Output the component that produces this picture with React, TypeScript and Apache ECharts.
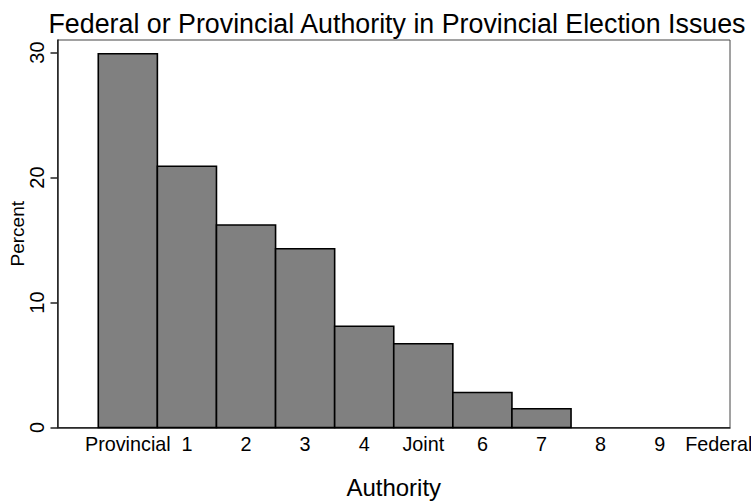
import React, { useEffect, useRef } from "react";
import * as echarts from "echarts";

const categories = ["Provincial", "1", "2", "3", "4", "Joint", "6", "7", "8", "9", "Federal"];
const percents = [29.9, 20.9, 16.2, 14.3, 8.1, 6.7, 2.8, 1.5];
const yTicks = [0, 10, 20, 30];
const titleText = "Federal or Provincial Authority in Provincial Election Issues";
const xTitle = "Authority";
const yTitle = "Percent";

export default function App() {
  const ref = useRef<HTMLDivElement>(null);
  useEffect(() => {
    if (!ref.current) return;
    const chart = echarts.init(ref.current, null, { renderer: "svg" });
    const font = "Liberation Sans, Arial, sans-serif";
    const data = percents.map((v, i) => [i, v]);
    chart.setOption({
      animation: false,
      backgroundColor: "#ffffff",
      title: {
        text: titleText,
        left: 392,
        textAlign: "center",
        top: 5,
        textStyle: { fontFamily: font, fontSize: 26.8, fontWeight: "normal", color: "#000" },
      },
      grid: {
        left: 57.5,
        right: 21,
        top: 40,
        bottom: 76.5,
        outerBoundsMode: "none",
        containLabel: false,
        show: true,
        borderColor: "#444",
        borderWidth: 1,
        backgroundColor: "#fff",
      },
      xAxis: {
        type: "value",
        min: -1.19,
        max: 10.19,
        name: xTitle,
        nameLocation: "middle",
        nameGap: 48,
        nameMoveOverlap: false,
        nameTextStyle: { fontFamily: font, fontSize: 24, color: "#000" },
        splitLine: { show: false },
        axisLine: { show: true, onZero: false, lineStyle: { color: "#222", width: 1.5 } },
        axisTick: { show: false },
        axisLabel: {
          customValues: categories.map((_, i) => i),
          formatter: (v: number) => categories[Math.round(v)] ?? "",
          fontFamily: font,
          fontSize: 19.8,
          color: "#000",
          margin: 6,
        },
      },
      yAxis: {
        type: "value",
        min: 0,
        max: 31.0,
        name: yTitle,
        nameLocation: "middle",
        nameGap: 31,
        nameMoveOverlap: false,
        nameTextStyle: { fontFamily: font, fontSize: 19, color: "#000" },
        splitLine: { show: false },
        axisLine: { show: true, onZero: false, lineStyle: { color: "#222", width: 1.5 } },
        axisTick: {
          show: true,
          length: 7,
          customValues: yTicks,
          lineStyle: { color: "#222", width: 1.5 },
        },
        axisLabel: {
          customValues: yTicks,
          rotate: 90,
          fontFamily: font,
          fontSize: 20,
          color: "#000",
          margin: 11,
        },
      },
      series: [
        {
          type: "custom",
          data,
          renderItem: (params: any, api: any) => {
            const x = api.value(0);
            const y = api.value(1);
            const p0 = api.coord([x - 0.5, y]);
            const p1 = api.coord([x + 0.5, 0]);
            return {
              type: "rect",
              shape: { x: p0[0], y: p0[1], width: p1[0] - p0[0], height: p1[1] - p0[1] },
              style: { fill: "#808080", stroke: "#000", lineWidth: 1.6 },
            };
          },
        },
      ],
    });
    return () => chart.dispose();
  }, []);
  return <div ref={ref} style={{ width: 751, height: 504, position: "absolute", left: 0, top: 0 }} />;
}
